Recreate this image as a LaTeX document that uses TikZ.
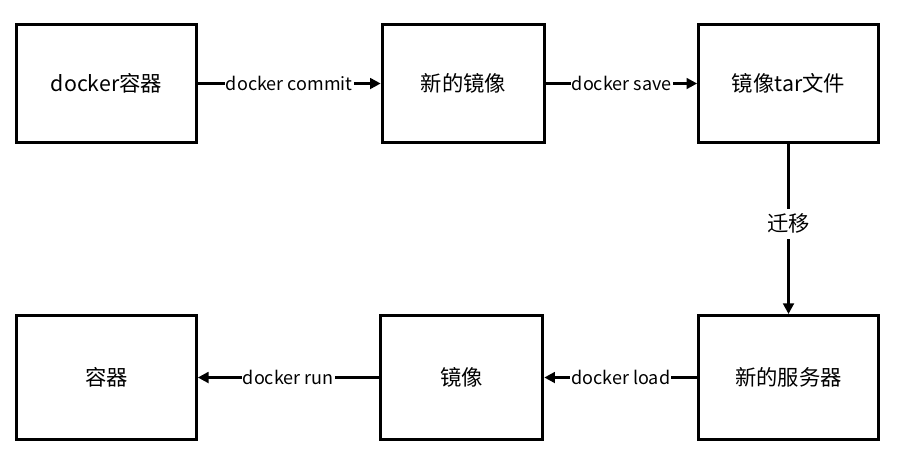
\documentclass[tikz,border=0pt]{standalone}
\usepackage{fontspec}
\setmainfont{Noto Sans CJK SC}
\usetikzlibrary{arrows.meta}
\begin{document}
\begin{tikzpicture}[x=0.75pt,y=-0.75pt,
 box/.style={draw,line width=2.2pt,minimum width=137pt-2.2pt,minimum height=88pt,font=\fontsize{16}{18}\selectfont},
 box2/.style={box,minimum width=122pt},
 arr/.style={line width=2pt,-{Triangle[length=8pt,width=8pt]}},
 lab/.style={fill=white,inner sep=1pt,font=\fontsize{13.5}{15}\selectfont}]
\useasboundingbox (0,0) rectangle (897,451);
\node[box] (a) at (106.5,83.5) {docker容器};
\node[box2] (b) at (463.5,83.5) {新的镜像};
\node[box] (c) at (788.5,83.5) {镜像tar文件};
\node[box,minimum height=93pt] (f) at (788.5,377.5) {新的服务器};
\node[box2,minimum height=93pt] (e) at (461.5,377.5) {镜像};
\node[box,minimum height=93pt] (d) at (106.5,377.5) {容器};
\draw[arr] (a) -- node[lab]{docker commit} (b);
\draw[arr] (b) -- node[lab]{docker save} (c);
\draw[arr] (c) -- node[lab,inner sep=4pt,font=\fontsize{16}{18}\selectfont,pos=0.47]{迁移} (f);
\draw[arr] (f) -- node[lab]{docker load} (e);
\draw[arr] (e) -- node[lab]{docker run} (d);
\end{tikzpicture}
\end{document}
